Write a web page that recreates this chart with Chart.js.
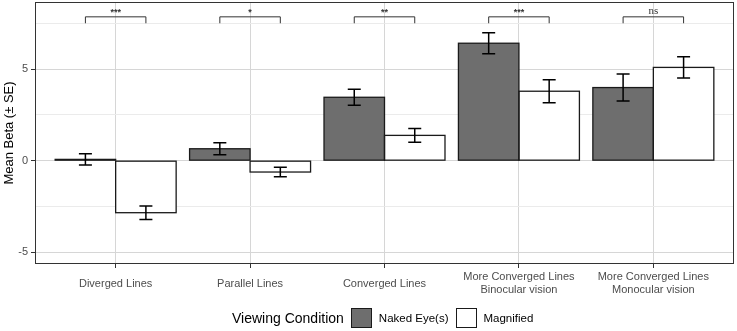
<!DOCTYPE html>
<html>
<head>
<meta charset="utf-8">
<script src="https://cdn.jsdelivr.net/npm/chart.js@4/dist/chart.umd.min.js"></script>
<style>
  html, body { margin: 0; padding: 0; background: #fff; }
  #wrap { position: relative; width: 737px; height: 331px; }
  #legend { position: absolute; left: 232px; top: 307px; height: 22px; display: flex; align-items: center;
            font-family: "Liberation Sans", Arial, sans-serif; color: #000; }
  #legend .title { font-size: 14px; margin-right: 7px; }
  #legend .key { width: 21px; height: 20px; border: 1.3px solid #1a1a1a; box-sizing: border-box; }
  #legend .lab { font-size: 11.5px; margin: 0 7px 0 7px; }
</style>
</head>
<body>
<div id="wrap">
  <canvas id="canvas" width="737" height="331"></canvas>
  <div id="legend">
    <span class="title">Viewing Condition</span>
    <span class="key" style="background:#6e6e6e"></span><span class="lab">Naked Eye(s)</span>
    <span class="key" style="background:#fff"></span><span class="lab">Magnified</span>
  </div>
</div>
<script>
var categories = [
  'Diverged Lines',
  'Parallel Lines',
  'Converged Lines',
  ['More Converged Lines', 'Binocular vision'],
  ['More Converged Lines', 'Monocular vision']
];
var nakedMean = [0.07, 0.65, 3.46, 6.41, 3.99];
var nakedSE = [0.31, 0.33, 0.44, 0.57, 0.74];
var magnifiedMean = [-2.84, -0.62, 1.38, 3.79, 5.09];
var magnifiedSE = [0.37, 0.26, 0.37, 0.63, 0.58];
var significance = ['***', '*', '**', '***', 'ns'];
var yTicks = [-5, 0, 5];

function init() {
  var nakedData = [];
  var magData = [];
  for (var i = 0; i < categories.length; i++) {
    nakedData.push({ x: i + 1, y: nakedMean[i] });
    magData.push({ x: i + 1, y: magnifiedMean[i] });
  }

  var sansFont = '"Liberation Sans", Arial, sans-serif';

  // bar outlines (centred on the edges), error bars, brackets, panel frame
  var extras = {
    id: 'extras',
    afterDatasetsDraw: function(chart) {
      var ctx = chart.ctx;
      var yScale = chart.scales.y;
      var xScale = chart.scales.x;
      var sets = [[nakedMean, nakedSE], [magnifiedMean, magnifiedSE]];
      ctx.save();
      ctx.strokeStyle = '#1a1a1a';
      ctx.lineWidth = 1.3;
      for (var d = 0; d < 2; d++) {
        var meta = chart.getDatasetMeta(d);
        for (var i = 0; i < meta.data.length; i++) {
          var b = meta.data[i];
          var t = Math.min(b.y, b.base), bt = Math.max(b.y, b.base);
          ctx.strokeRect(b.x - b.width / 2, t, b.width, bt - t);
        }
      }
      ctx.strokeStyle = '#000';
      ctx.lineWidth = 1.5;
      for (var d = 0; d < 2; d++) {
        var meta = chart.getDatasetMeta(d);
        for (var i = 0; i < meta.data.length; i++) {
          var bx = meta.data[i].x;
          var top = yScale.getPixelForValue(sets[d][0][i] + sets[d][1][i]);
          var bot = yScale.getPixelForValue(sets[d][0][i] - sets[d][1][i]);
          ctx.beginPath();
          ctx.moveTo(bx, top); ctx.lineTo(bx, bot);
          ctx.moveTo(bx - 6.5, top); ctx.lineTo(bx + 6.5, top);
          ctx.moveTo(bx - 6.5, bot); ctx.lineTo(bx + 6.5, bot);
          ctx.stroke();
        }
      }
      // brackets
      var m0 = chart.getDatasetMeta(0), m1 = chart.getDatasetMeta(1);
      var yLine = yScale.getPixelForValue(7.85);
      var yEnd = yScale.getPixelForValue(7.5);
      ctx.strokeStyle = '#333';
      ctx.lineWidth = 1;
      ctx.fillStyle = '#333';
      ctx.textAlign = 'center';
      ctx.textBaseline = 'alphabetic';
      for (var i = 0; i < significance.length; i++) {
        var x0 = m0.data[i].x, x1 = m1.data[i].x;
        ctx.beginPath();
        ctx.moveTo(x0, yEnd); ctx.lineTo(x0, yLine); ctx.lineTo(x1, yLine); ctx.lineTo(x1, yEnd);
        ctx.stroke();
        var cx = xScale.getPixelForValue(i + 1);
        if (significance[i] === 'ns') {
          ctx.font = '11px "Liberation Serif", "DejaVu Serif", serif';
          ctx.fillText(significance[i], cx, yLine - 3);
        } else {
          ctx.font = 'bold 9px ' + sansFont;
          ctx.fillText(significance[i], cx, yLine - 2);
        }
      }
      // panel border
      var a = chart.chartArea;
      ctx.strokeStyle = '#333';
      ctx.lineWidth = 1;
      ctx.strokeRect(Math.round(a.left) + 0.5, Math.round(a.top) + 0.5,
                     Math.round(a.right - a.left) - 1, Math.round(a.bottom - a.top) - 1);
      ctx.restore();
    }
  };

  var ctx = document.getElementById('canvas').getContext('2d');
  window.myBar = new Chart(ctx, {
    type: 'bar',
    data: {
      datasets: [{
        label: 'Naked Eye(s)',
        data: nakedData,
        backgroundColor: '#6e6e6e',
        borderWidth: 0
      }, {
        label: 'Magnified',
        data: magData,
        backgroundColor: '#ffffff',
        borderWidth: 0
      }]
    },
    options: {
      responsive: false,
      animation: false,
      categoryPercentage: 0.9,
      barPercentage: 1.0,
      layout: { padding: { top: 2, right: 3, left: 0, bottom: 0 } },
      plugins: {
        legend: { display: false },
        tooltip: { enabled: false }
      },
      scales: {
        x: {
          type: 'linear',
          min: 0.4,
          max: 5.6,
          offset: false,
          afterFit: function(s) {
            s.height = 67;
            s.paddingLeft = 0; s.paddingRight = 0;
          },
          ticks: {
            stepSize: 1,
            includeBounds: false,
            autoSkip: false,
            maxRotation: 0,
            crossAlign: 'center',
            padding: 9,
            color: '#4d4d4d',
            font: { family: sansFont, size: 11 },
            callback: function(v) {
              var idx = Math.round(v) - 1;
              return (Math.abs(v - Math.round(v)) < 1e-6 && categories[idx]) ? categories[idx] : '';
            }
          },
          grid: { offset: false, color: '#d6d6d6', lineWidth: 1, tickColor: '#333', tickLength: 4 },
          border: { display: false }
        },
        y: {
          min: -5.64,
          max: 8.66,
          afterFit: function(s) {
            s.width = 35;
            s.paddingTop = 0; s.paddingBottom = 0;
          },
          title: {
            display: true,
            text: 'Mean Beta (\u00b1 SE)',
            color: '#000',
            font: { family: sansFont, size: 13 },
            padding: { top: 2, bottom: 0 }
          },
          ticks: {
            stepSize: 2.5,
            includeBounds: false,
            padding: 3,
            color: '#4d4d4d',
            font: { family: sansFont, size: 11 },
            callback: function(v) {
              for (var k = 0; k < yTicks.length; k++) {
                if (Math.abs(v - yTicks[k]) < 1e-6) return String(yTicks[k]);
              }
              return '';
            }
          },
          grid: {
            lineWidth: 1,
            color: function(c) {
              var v = c.tick ? c.tick.value : 0;
              return yTicks.indexOf(Math.round(v * 100) / 100) >= 0 ? '#d6d6d6' : '#ebebeb';
            },
            tickColor: function(c) {
              var v = c.tick ? c.tick.value : 0;
              return yTicks.indexOf(Math.round(v * 100) / 100) >= 0 ? '#333' : 'rgba(0,0,0,0)';
            },
            tickLength: 4
          },
          border: { display: false }
        }
      }
    },
    plugins: [extras]
  });
}

window.onload = init;
</script>
</body>
</html>
